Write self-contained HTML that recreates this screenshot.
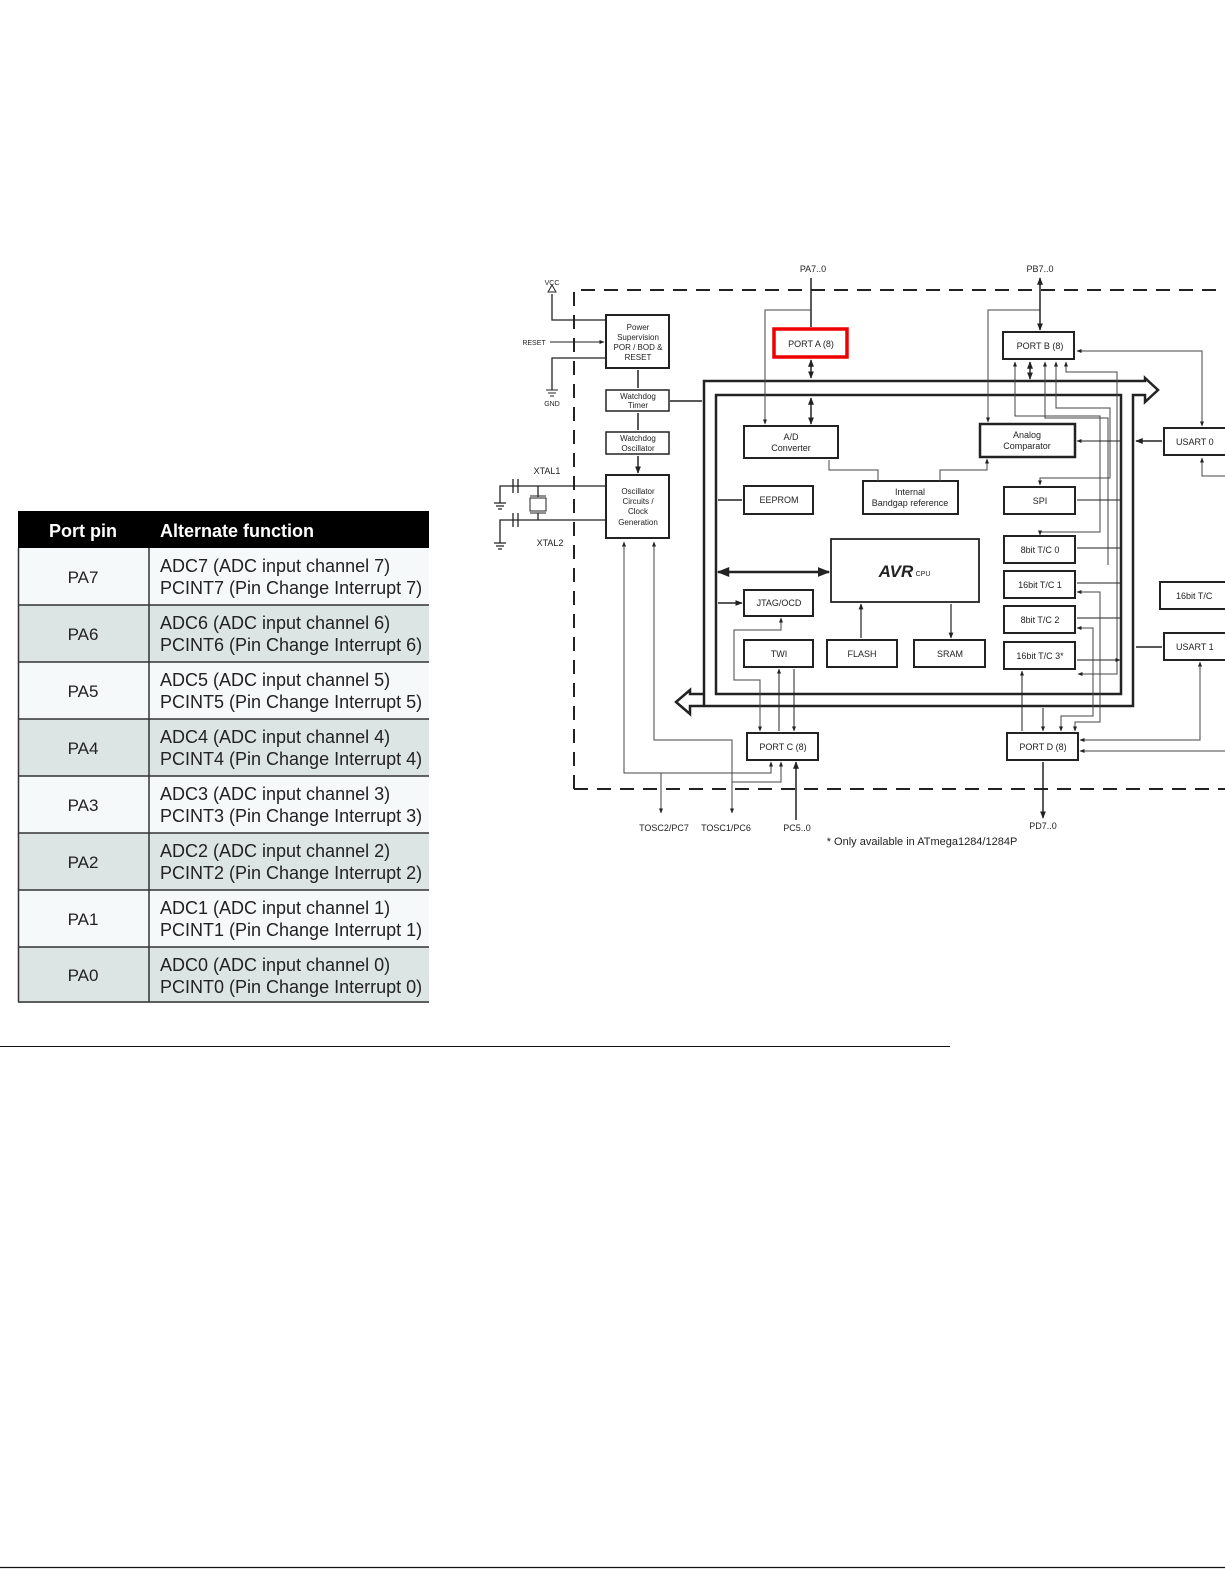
<!DOCTYPE html>
<html><head><meta charset="utf-8"><style>
html,body{margin:0;padding:0;background:#fff;}
body{width:1225px;height:1585px;position:relative;overflow:hidden;font-family:"Liberation Sans",Arial,sans-serif;}
svg{position:absolute;left:0;top:0;}
</style></head><body>
<svg width="1225" height="1585" viewBox="0 0 1225 1585" xmlns="http://www.w3.org/2000/svg" font-family="Liberation Sans, Arial, sans-serif">
<defs>
<marker id="a" viewBox="0 0 10 10" refX="9" refY="5" markerWidth="5" markerHeight="5" orient="auto-start-reverse"><path d="M0,1 L10,5 L0,9 z" fill="#222"/></marker>
</defs>
<!-- TABLE -->
<rect x="18" y="511" width="411" height="37" fill="#000"/>
<text x="83" y="537" fill="#fff" font-size="18" font-weight="bold" text-anchor="middle">Port pin</text>
<text x="160" y="537" fill="#fff" font-size="18" font-weight="bold">Alternate function</text>
<g font-size="18" fill="#222">
<rect x="18" y="548" width="411" height="57" fill="#f5f9f9"/>
<rect x="18" y="605" width="411" height="57" fill="#dde4e4"/>
<rect x="18" y="662" width="411" height="57" fill="#f5f9f9"/>
<rect x="18" y="719" width="411" height="57" fill="#dde4e4"/>
<rect x="18" y="776" width="411" height="57" fill="#f5f9f9"/>
<rect x="18" y="833" width="411" height="57" fill="#dde4e4"/>
<rect x="18" y="890" width="411" height="57" fill="#f5f9f9"/>
<rect x="18" y="947" width="411" height="56" fill="#dde4e4"/>
<g stroke="#333" stroke-width="1.5">
<line x1="18" y1="605" x2="429" y2="605"/><line x1="18" y1="662" x2="429" y2="662"/><line x1="18" y1="719" x2="429" y2="719"/><line x1="18" y1="776" x2="429" y2="776"/><line x1="18" y1="833" x2="429" y2="833"/><line x1="18" y1="890" x2="429" y2="890"/><line x1="18" y1="947" x2="429" y2="947"/><line x1="18" y1="1002" x2="429" y2="1002"/>
<line x1="149" y1="548" x2="149" y2="1002"/><line x1="18.5" y1="548" x2="18.5" y2="1002"/>
</g>
<g text-anchor="middle" font-size="17">
<text x="83" y="583">PA7</text><text x="83" y="640">PA6</text><text x="83" y="697">PA5</text><text x="83" y="754">PA4</text><text x="83" y="811">PA3</text><text x="83" y="868">PA2</text><text x="83" y="925">PA1</text><text x="83" y="981">PA0</text>
</g>
<text x="160" y="572">ADC7 (ADC input channel 7)</text><text x="160" y="594">PCINT7 (Pin Change Interrupt 7)</text>
<text x="160" y="629">ADC6 (ADC input channel 6)</text><text x="160" y="651">PCINT6 (Pin Change Interrupt 6)</text>
<text x="160" y="686">ADC5 (ADC input channel 5)</text><text x="160" y="708">PCINT5 (Pin Change Interrupt 5)</text>
<text x="160" y="743">ADC4 (ADC input channel 4)</text><text x="160" y="765">PCINT4 (Pin Change Interrupt 4)</text>
<text x="160" y="800">ADC3 (ADC input channel 3)</text><text x="160" y="822">PCINT3 (Pin Change Interrupt 3)</text>
<text x="160" y="857">ADC2 (ADC input channel 2)</text><text x="160" y="879">PCINT2 (Pin Change Interrupt 2)</text>
<text x="160" y="914">ADC1 (ADC input channel 1)</text><text x="160" y="936">PCINT1 (Pin Change Interrupt 1)</text>
<text x="160" y="971">ADC0 (ADC input channel 0)</text><text x="160" y="993">PCINT0 (Pin Change Interrupt 0)</text>
</g>
<!-- separators -->
<line x1="0" y1="1046.5" x2="950" y2="1046.5" stroke="#111" stroke-width="1"/>
<line x1="0" y1="1567.5" x2="1225" y2="1567.5" stroke="#111" stroke-width="1.2"/>

<!-- DIAGRAM -->
<g fill="none" stroke="#222">
<path d="M574,789 V290 H1225 M574,789 H1225" stroke-width="2" stroke-dasharray="14,9"/>
<path d="M704,706 V381 H1145 V378 L1158,390 L1145,402 V395 H1133 V706 H690 V714 L676,702 L690,690 V694 H704" stroke-width="2.5"/>
<rect x="716" y="395" width="405" height="299" stroke-width="2.5"/>
<g stroke-width="2">
<rect x="606" y="315" width="63" height="53"/>
<rect x="606" y="390" width="63" height="21" stroke-width="1.5"/>
<rect x="606" y="432" width="63" height="22" stroke-width="1.5"/>
<rect x="606" y="475" width="63" height="63"/>
<rect x="1003" y="332" width="71" height="27"/>
<rect x="744" y="426" width="94" height="32"/>
<rect x="980" y="424" width="95" height="33" stroke-width="2.5"/>
<rect x="744" y="486" width="69" height="28"/>
<rect x="863" y="481" width="95" height="33"/>
<rect x="1004" y="487" width="71" height="27"/>
<rect x="831" y="539" width="148" height="63" stroke-width="1.8"/>
<rect x="1004" y="536" width="71" height="27"/>
<rect x="1004" y="571" width="71" height="27"/>
<rect x="1004" y="606" width="71" height="27"/>
<rect x="1004" y="642" width="71" height="27"/>
<rect x="744" y="590" width="69" height="26"/>
<rect x="744" y="640" width="69" height="27"/>
<rect x="827" y="640" width="70" height="27"/>
<rect x="914" y="640" width="71" height="27"/>
<rect x="747" y="733" width="71" height="27"/>
<rect x="1007" y="733" width="71" height="27"/>
<rect x="1164" y="428" width="70" height="27"/>
<rect x="1160" y="582" width="70" height="27"/>
<rect x="1164" y="633" width="70" height="27"/>
</g>
<rect x="774" y="329" width="73" height="28" stroke="#e00" stroke-width="3.5"/>
</g>
<g fill="none" stroke="#444" stroke-width="1">
<path d="M811,327 V278 M1040,310 V278" stroke="#222" stroke-width="1.5" marker-end="url(#a)"/>
<path d="M811,310 H765 V424" marker-end="url(#a)"/>
<path d="M1040,310 H988 V422" marker-end="url(#a)"/>
<path d="M1040,310 V330" stroke="#222" stroke-width="1.5" marker-end="url(#a)"/>
<path d="M811,360 V378" stroke="#222" stroke-width="1.5" marker-start="url(#a)" marker-end="url(#a)"/>
<path d="M811,398 V424" stroke="#222" stroke-width="1.5" marker-start="url(#a)" marker-end="url(#a)"/>
<path d="M1030,362 V379" stroke="#222" stroke-width="1.5" marker-start="url(#a)" marker-end="url(#a)"/>
<path d="M1015,362 V416 H1100 V532 H1040 V535" marker-start="url(#a)" marker-end="url(#a)"/>
<path d="M1045,362 V418 H1108 V565" marker-start="url(#a)"/>
<path d="M1056,362 V408 H1110 V478 H1040 V485" marker-start="url(#a)" marker-end="url(#a)"/>
<path d="M1066,362 V372 H1117 V674 H1078" marker-start="url(#a)" marker-end="url(#a)"/>
<path d="M1077,351 H1202 V426" marker-start="url(#a)" marker-end="url(#a)"/>
<path d="M1202,458 V476 H1225" marker-start="url(#a)"/>
<path d="M1077,441 H1120 M1077,500 H1120 M1077,548 H1120 M1077,583 H1120 M1077,618 H1120 M1077,660 H1120" stroke="#222" marker-start="url(#a)" marker-end="url(#a)"/>
<path d="M1136,441 H1162 M1136,647 H1162 M670,401 H702 M718,500 H742 M718,603 H742" stroke="#222" stroke-width="1.5" marker-start="url(#a)" marker-end="url(#a)"/>
<path d="M718,572 H829" stroke="#222" stroke-width="2.5" marker-start="url(#a)" marker-end="url(#a)"/>
<path d="M638,388 V370 M638,430 V413 M638,456 V473" stroke="#222" stroke-width="1.5" marker-end="url(#a)"/>
<path d="M878,481 V470 H829 V460 M940,481 V470 H987 V459" marker-end="url(#a)"/>
<path d="M861,604 V638 M951,604 V638" stroke="#222" stroke-width="1.2" marker-start="url(#a)" marker-end="url(#a)"/>
<path d="M779,669 V731 M794,669 V731" stroke="#222" marker-start="url(#a)" marker-end="url(#a)"/>
<path d="M781,618 V630 H734 V680 H760 V731" marker-start="url(#a)" marker-end="url(#a)"/>
<path d="M1022,671 V731 M1043,708 V731" stroke="#222" marker-start="url(#a)" marker-end="url(#a)"/>
<path d="M1077,592 H1100 V722 H1075 V731" marker-start="url(#a)" marker-end="url(#a)"/>
<path d="M1077,628 H1093 V716 H1061 V731" marker-start="url(#a)" marker-end="url(#a)"/>
<path d="M1200,662 V740 H1080" marker-start="url(#a)" marker-end="url(#a)"/>
<path d="M1225,751 H1080" marker-end="url(#a)"/>
<path d="M624,542 V773 H771 V762" marker-start="url(#a)" marker-end="url(#a)"/>
<path d="M661,773 V813" marker-end="url(#a)"/>
<path d="M654,542 V740 H732 V782 H781 V762" marker-start="url(#a)" marker-end="url(#a)"/>
<path d="M732,782 V813" marker-end="url(#a)"/>
<path d="M796,762 V820 M1043,762 V818" stroke="#222" stroke-width="1.5" marker-start="url(#a)" marker-end="url(#a)"/>
<path d="M552,294 V320 H606 M552,390 V358 H606" stroke="#222" stroke-width="1.3"/>
<path d="M550,342 H604" stroke="#222" marker-end="url(#a)"/>
<path d="M548,292 L552,285 L556,292 Z M546,390 H558 M548,393 H556 M550,396 H554" stroke="#222"/>
<path d="M508,486 H606 M510,520 H606 M538,486 V497 M538,513 V520 M513,479 V493 M518,479 V493 M513,513 V527 M518,513 V527 M513,486 H500 V503 M513,520 H500 V543 M494,503 H506 M496,506 H504 M498,509 H502 M494,543 H506 M496,546 H504 M498,549 H502" stroke="#222" stroke-width="1.3"/>
<rect x="530" y="498" width="16" height="13" stroke="#222"/>
<path d="M530,496 H546 M530,513 H546" stroke="#222"/>
</g>
<g font-size="9" fill="#222" text-anchor="middle">
<text x="813" y="272">PA7..0</text><text x="1040" y="272">PB7..0</text>
<text x="552" y="285" font-size="7">VCC</text><text x="534" y="345" font-size="7">RESET</text><text x="552" y="406" font-size="7">GND</text>
<text x="547" y="474">XTAL1</text><text x="550" y="546">XTAL2</text>
<g font-size="8"><text x="638" y="330">Power</text><text x="638" y="340">Supervision</text><text x="638" y="350">POR / BOD &amp;</text><text x="638" y="360">RESET</text>
<text x="638" y="399">Watchdog</text><text x="638" y="408">Timer</text><text x="638" y="441">Watchdog</text><text x="638" y="451">Oscillator</text>
<text x="638" y="494">Oscillator</text><text x="638" y="504">Circuits /</text><text x="638" y="514">Clock</text><text x="638" y="525">Generation</text></g>
<text x="811" y="347">PORT A (8)</text><text x="1040" y="349">PORT B (8)</text>
<text x="791" y="440">A/D</text><text x="791" y="451">Converter</text>
<text x="1027" y="438">Analog</text><text x="1027" y="449">Comparator</text>
<text x="779" y="503">EEPROM</text><text x="910" y="495">Internal</text><text x="910" y="506">Bandgap reference</text>
<text x="1040" y="504">SPI</text>
<text x="1040" y="553">8bit T/C 0</text><text x="1040" y="588">16bit T/C 1</text><text x="1040" y="623">8bit T/C 2</text><text x="1040" y="659">16bit T/C 3*</text>
<text x="779" y="606">JTAG/OCD</text><text x="779" y="657">TWI</text><text x="862" y="657">FLASH</text><text x="950" y="657">SRAM</text>
<text x="783" y="750">PORT C (8)</text><text x="1043" y="750">PORT D (8)</text>
<text x="1176" y="445" text-anchor="start">USART 0</text><text x="1176" y="599" text-anchor="start">16bit T/C</text><text x="1176" y="650" text-anchor="start">USART 1</text>
<text x="664" y="831">TOSC2/PC7</text><text x="726" y="831">TOSC1/PC6</text><text x="797" y="831">PC5..0</text><text x="1043" y="829">PD7..0</text>
<text x="922" y="845" font-size="11">* Only available in ATmega1284/1284P</text>
<text x="896" y="577" font-size="17" font-weight="bold" font-style="italic">AVR</text><text x="923" y="576" font-size="7">CPU</text>
</g>
</svg>
</body></html>
